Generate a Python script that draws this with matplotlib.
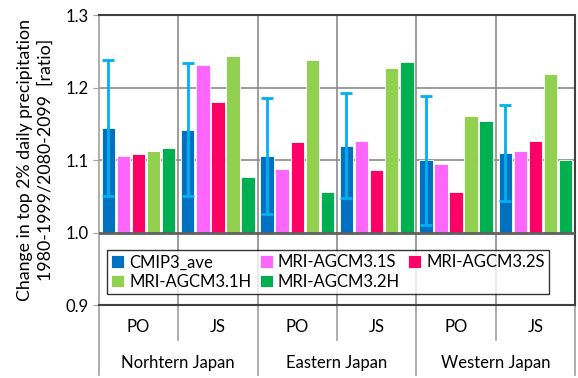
import numpy as np
import matplotlib
matplotlib.use('Agg')
import matplotlib.pyplot as plt
from matplotlib.lines import Line2D

plt.rcParams['font.family'] = ['Lato', 'DejaVu Sans']

# data
regions = ['Norhtern Japan', 'Eastern Japan', 'Western Japan']
seasons = ['PO', 'JS', 'PO', 'JS', 'PO', 'JS']
models = ['CMIP3_ave', 'MRI-AGCM3.1S', 'MRI-AGCM3.2S', 'MRI-AGCM3.1H', 'MRI-AGCM3.2H']
colors = ['#0070C0', '#FF66FF', '#FF0066', '#92D050', '#00B050']

cmip3_ave = [1.144, 1.142, 1.106, 1.120, 1.100, 1.110]
agcm31s = [1.105, 1.231, 1.088, 1.126, 1.094, 1.113]
agcm32s = [1.108, 1.180, 1.125, 1.086, 1.056, 1.127]
agcm31h = [1.113, 1.243, 1.238, 1.227, 1.161, 1.219]
agcm32h = [1.116, 1.077, 1.056, 1.236, 1.154, 1.100]
cmip3_err = [0.094, 0.092, 0.080, 0.073, 0.089, 0.066]

series = [cmip3_ave, agcm31s, agcm32s, agcm31h, agcm32h]

fig = plt.figure(figsize=(5.78, 3.78), dpi=100)
ax = fig.add_axes([0.171, 0.193, 0.824, 0.767])

x = np.arange(len(seasons))
step = 0.19
base = 1.0
bars = []
for i, (vals, name, c) in enumerate(zip(series, models, colors)):
    h = np.array(vals) - base
    b = ax.bar(x + (i - 2) * step, h, bottom=base, width=0.17, color=c,
               edgecolor='white', linewidth=0.6, label=name, zorder=3)
    bars.append(b)

ax.errorbar(x - 2 * step, cmip3_ave, yerr=cmip3_err, fmt='none',
            ecolor='#00B0F0', elinewidth=2, capsize=4, capthick=2, zorder=4)

ax.set_xlim(-0.5, 5.5)
ax.set_ylim(0.9, 1.3)
ax.set_yticks([0.9, 1.0, 1.1, 1.2, 1.3])
ax.set_yticklabels(['0.9', '1.0', '1.1', '1.2', '1.3'], fontsize=12)
ax.set_xticks([])
ax.tick_params(axis='y', length=4, color='#A0A0A0', pad=3)

for yv in [1.1, 1.2]:
    ax.axhline(yv, color='#8C8C8C', lw=1.2, zorder=1)
ax.axhline(1.0, color='#606060', lw=2, zorder=5)
for xv in np.arange(0.5, 5.5, 1.0):
    ax.axvline(xv, color='#8C8C8C', lw=1.2, zorder=1)

for s in ['top', 'right', 'bottom']:
    ax.spines[s].set_color('#404040')
    ax.spines[s].set_linewidth(1.5)
ax.spines['left'].set_color('#A0A0A0')
ax.spines['left'].set_linewidth(1.2)

ax.set_ylabel('Change in top 2% daily precipitation\n1980-1999/2080-2099  [ratio]',
              fontsize=12.8, linespacing=1.3, labelpad=9)

# row-wise legend order for 3 columns
order = [0, 3, 1, 4, 2]
leg = ax.legend([bars[k] for k in order], [models[k] for k in order],
                loc='center', bbox_to_anchor=(0.017, 0.034, 0.928, 0.159),
                mode='expand', ncol=3, fontsize=12, frameon=True, fancybox=False,
                edgecolor='black', handlelength=0.8, handleheight=0.8,
                handletextpad=0.3, borderpad=0.25, labelspacing=0.2,
                borderaxespad=0)
leg.get_frame().set_linewidth(1.0)
leg.set_zorder(6)

# category axis below the plot
trans = ax.get_xaxis_transform()
for xi, lab in zip(x, seasons):
    ax.text(xi, -0.075, lab, transform=trans, ha='center', va='center', fontsize=12)
for ri, lab in enumerate(regions):
    ax.text(ri * 2 + 0.5, -0.2, lab, transform=trans, ha='center', va='center', fontsize=12)
for xv in [0.5, 2.5, 4.5]:
    ax.add_line(Line2D([xv, xv], [0, -0.12], transform=trans, color='#A0A0A0',
                       lw=1.2, clip_on=False))
for xv in [-0.5, 1.5, 3.5, 5.5]:
    ax.add_line(Line2D([xv, xv], [0, -0.24], transform=trans, color='#A0A0A0',
                       lw=1.2, clip_on=False))

fig.savefig('out.png', dpi=100)
